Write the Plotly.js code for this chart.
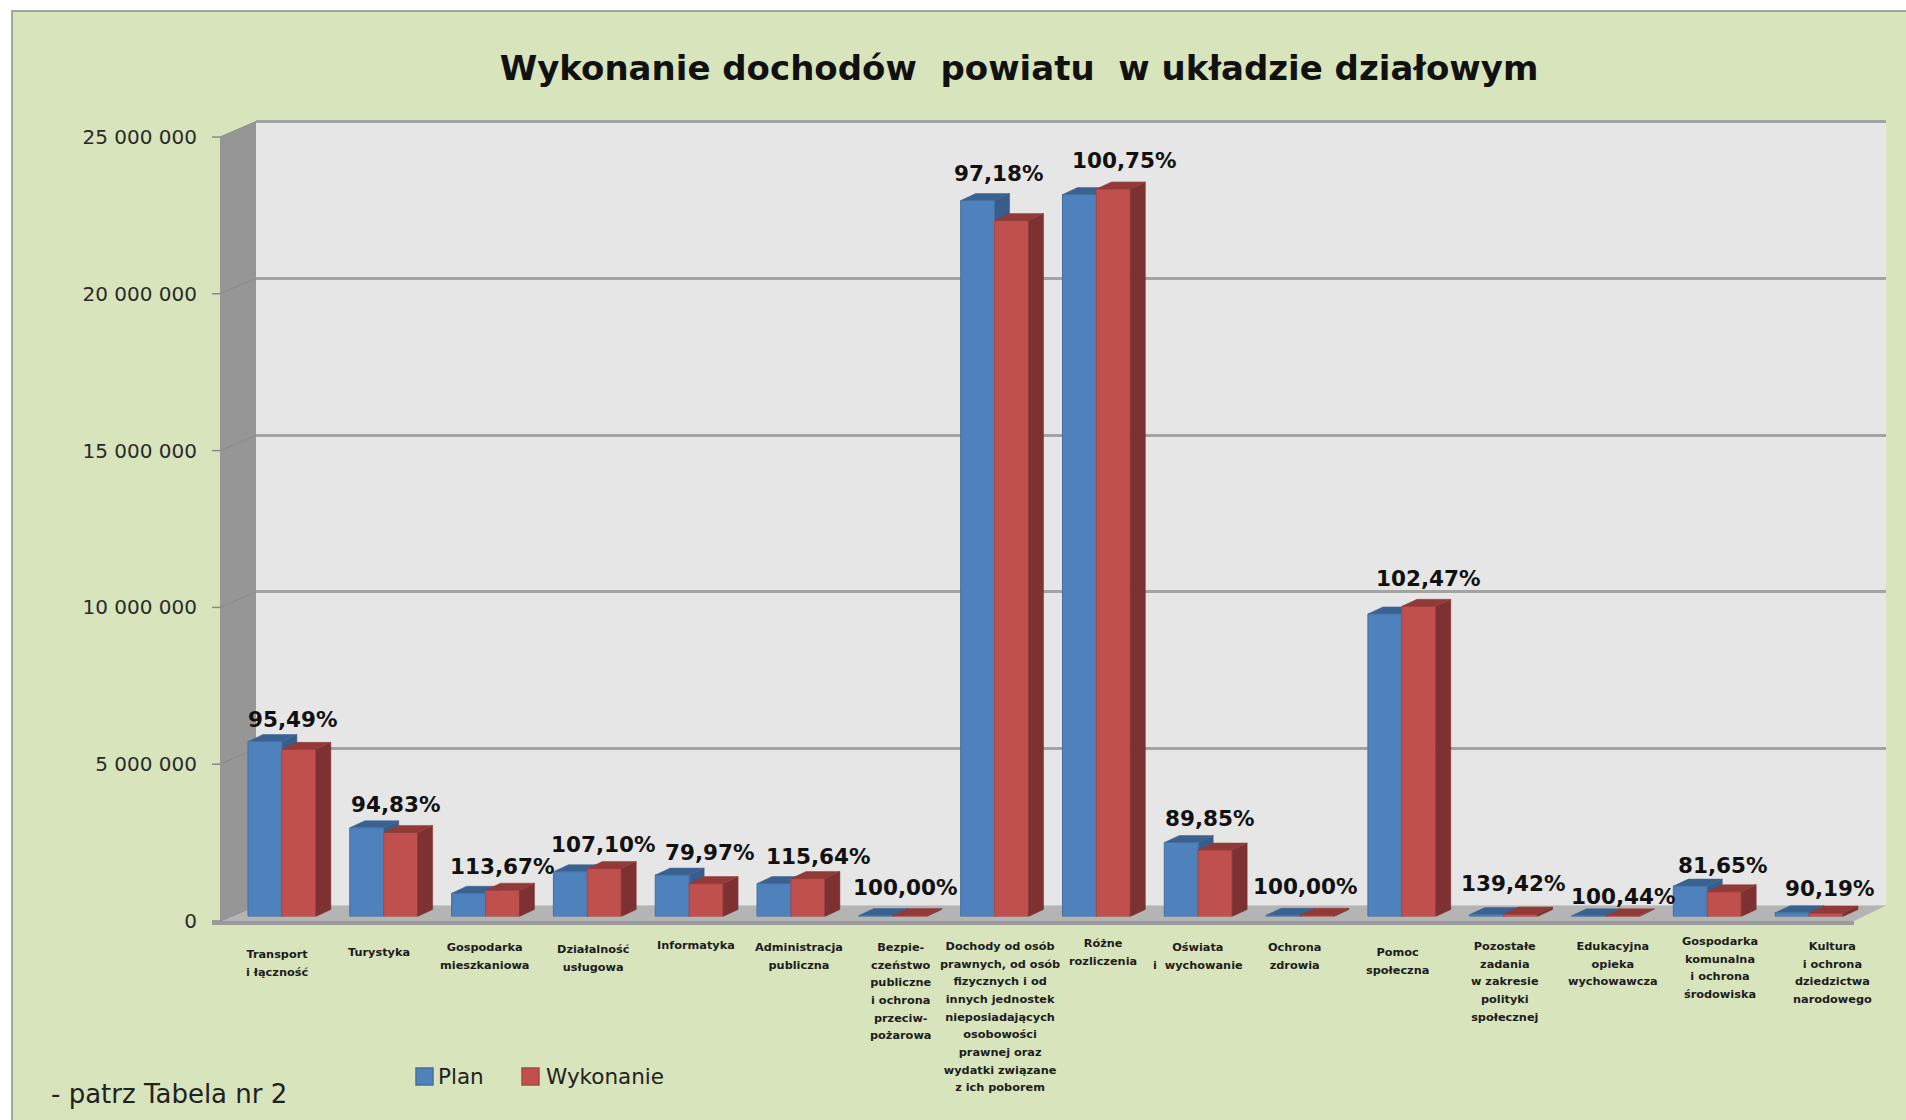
<!DOCTYPE html>
<html><head><meta charset="utf-8">
<script src="https://cdn.plot.ly/plotly-3.0.1.min.js"></script>
<style>html,body{margin:0;padding:0;background:#fff;overflow:hidden}</style>
</head><body><div id="chart" style="width:1906px;height:1120px"></div>
<script>
const chartTitle = "Wykonanie dochodów\u00a0 powiatu\u00a0 w układzie działowym";
const categories = [
 ["Transport","i łączność"],["Turystyka"],["Gospodarka","mieszkaniowa"],["Działalność","usługowa"],
 ["Informatyka"],["Administracja","publiczna"],["Bezpie-","czeństwo","publiczne","i ochrona","przeciw-","pożarowa"],
 ["Dochody od osób","prawnych, od osób","fizycznych i od","innych jednostek","nieposiadających","osobowości","prawnej oraz","wydatki związane","z ich poborem"],
 ["Różne","rozliczenia"],["Oświata","i\u00a0 wychowanie"],["Ochrona","zdrowia"],["Pomoc","społeczna"],
 ["Pozostałe","zadania","w zakresie","polityki","społecznej"],["Edukacyjna","opieka","wychowawcza"],
 ["Gospodarka","komunalna","i ochrona","środowiska"],["Kultura","i ochrona","dziedzictwa","narodowego"]];
const plan      = [5580000,2830000,740000,1430000,1320000,1050000,30000,22830000,23020000,2360000,40000,9650000,60000,20000,970000,120000];
const wykonanie = [5330000,2680000,840000,1530000,1050000,1210000,30000,22190000,23200000,2120000,40000,9890000,80000,20000,790000,110000];
const percent   = ["95,49%","94,83%","113,67%","107,10%","79,97%","115,64%","100,00%","97,18%","100,75%","89,85%","100,00%","102,47%","139,42%","100,44%","81,65%","90,19%"];
const yTicks    = [0,5000000,10000000,15000000,20000000,25000000];
const yTickText = ["0","5 000 000","10 000 000","15 000 000","20 000 000","25 000 000"];

// layout nudges, in page pixels
const pctShiftX = [11,12,17,16,21,28,13,4,28,12,5,27,10,18,16,21];
const pctShiftY = [22,23,24,24,23,22,28,27,28,24,29,28,30,19,21,24];
const catShiftX = [-5,-5,-1,6,7,8,8,5,7,0,-6,-4,1,8,13,23];
const catCenterY= [954,952,947,949,945,947,947,946,943,947,947,952,946,946,941,946];

const W=1906,H=1120;
const px=x=>x/W, py=y=>1-y/H;
const dom=(a,b)=>[a/W,b/W], vdom=(top,bot)=>[1-bot/H,1-top/H];

// geometry of the 3D box (pixels)
const FL=220,FR=1854,FB=921,FT=137, BL=256,BR=1886,BB=905.5,BT=121.5;
const PL=231,PR=1860,PB=916.5,PT=132.5;
const catPx=(PR-PL)/16, valPx=(PB-PT)/25000000;
const depthX=15/catPx, depthY=7/valPx, w=1/3;
const idx=categories.map((c,i)=>i);
const planColor='#4f81bd', execColor='#c0504d';

function depth(values,offset,kind){
  const xs=[],ys=[];
  values.forEach((v,i)=>{
    const l=i+offset,r=l+w;
    const pts= kind==='side'
      ? [[r,0],[r+depthX,depthY],[r+depthX,v+depthY],[r,v]]
      : [[l,v],[l+depthX,v+depthY],[r+depthX,v+depthY],[r,v]];
    pts.concat([pts[0]]).forEach(p=>{xs.push(p[0]);ys.push(p[1]);});
    xs.push(null);ys.push(null);
  });
  return {x:xs,y:ys};
}
function poly(d,color,xa,ya){
  return {type:'scatter',mode:'lines',x:d.x,y:d.y,fill:'toself',fillcolor:color,
    line:{width:0.5,color:color},hoverinfo:'skip',showlegend:false,xaxis:xa,yaxis:ya};
}
const anchorTrace=(xa,ya)=>({type:'scatter',mode:'markers',x:[0],y:[0],marker:{opacity:0,size:1},
  hoverinfo:'skip',showlegend:false,xaxis:xa,yaxis:ya});

const traces=[
  anchorTrace('x','y'),
  poly(depth(plan,-w,'side'),'#385d8a','x2','y2'),
  poly(depth(plan,-w,'top'),'#3a6291','x2','y2'),
  {type:'bar',name:'Plan',x:idx,y:plan,xaxis:'x3',yaxis:'y3',showlegend:false,marker:{color:planColor,line:{color:'#41719f',width:1}}},
  {type:'bar',name:'Wykonanie',x:idx,y:wykonanie,xaxis:'x3',yaxis:'y3',showlegend:false,marker:{color:execColor,line:{color:'#a94744',width:1}}},
  poly(depth(wykonanie,0,'side'),'#7d3231','x3','y3'),
  poly(depth(wykonanie,0,'top'),'#923a38','x3','y3'),
  anchorTrace('x4','y4')
];

const fontTick="'DejaVu Sans'";
const annotations=[];
categories.forEach((lines,i)=>{
  annotations.push({xref:'x3',yref:'paper',x:i,y:py(catCenterY[i]-8),xanchor:'center',yanchor:'top',xshift:catShiftX[i],
    showarrow:false,align:'center',font:{family:fontTick,size:13.6,color:'#1c1c1c'},
    text:lines.map(t=>'<span style="font-size:11.3px;font-weight:bold">'+t+'</span>').join('<br>')});
  annotations.push({xref:'x3',yref:'y3',x:i,y:Math.max(plan[i],wykonanie[i]),xanchor:'center',yanchor:'middle',
    xshift:pctShiftX[i],yshift:pctShiftY[i],showarrow:false,
    font:{family:fontTick,size:21.5,color:'#111',weight:600},text:'<b>'+percent[i]+'</b>'});
});
annotations.push({xref:'paper',yref:'paper',x:px(49),y:py(1094),xanchor:'left',yanchor:'middle',showarrow:false,
  font:{family:fontTick,size:26,color:'#222'},text:'- patrz Tabela nr 2'});
// legend entries
[['Plan',planColor,'#41719f',416,436],['Wykonanie',execColor,'#a94744',521,544]].forEach(e=>{
  annotations.push({xref:'paper',yref:'paper',x:px(e[4]),y:py(1076),xanchor:'left',yanchor:'middle',showarrow:false,
    font:{family:fontTick,size:21.5,color:'#222'},text:e[0]});
});

const shapes=[
  {type:'rect',xref:'paper',yref:'paper',x0:px(12),x1:px(1930),y0:py(11),y1:py(1140),fillcolor:'#d8e4bc',line:{color:'#8c8c8c',width:1.5},layer:'below'},
  {type:'path',xref:'paper',yref:'paper',layer:'below',fillcolor:'#e6e6e6',line:{width:0},
   path:`M${px(BL)},${py(BT)} L${px(BR)},${py(BT)} L${px(BR)},${py(BB)} L${px(BL)},${py(BB)} Z`},
  {type:'path',xref:'paper',yref:'paper',layer:'below',fillcolor:'#969696',line:{width:0},
   path:`M${px(FL)},${py(FT)} L${px(BL)},${py(BT)} L${px(BL)},${py(BB)} L${px(FL)},${py(FB)} Z`},
  {type:'path',xref:'paper',yref:'paper',layer:'below',fillcolor:'#b4b4b4',line:{width:0},
   path:`M${px(FL)},${py(FB)} L${px(BL)},${py(BB)} L${px(BR)},${py(BB)} L${px(FR)},${py(FB)} Z`},
  {type:'line',xref:'paper',yref:'paper',layer:'below',line:{color:'#a3a3a3',width:3},
   x0:px(BL),x1:px(BR),y0:py(BT),y1:py(BT)},
  {type:'line',xref:'paper',yref:'paper',layer:'below',line:{color:'#a3a3a3',width:1.5},
   x0:px(FL),x1:px(BL),y0:py(FB),y1:py(BB)},
  {type:'rect',xref:'paper',yref:'paper',layer:'above',x0:px(416),x1:px(433),y0:py(1068),y1:py(1085),fillcolor:planColor,line:{color:'#41719f',width:1.5}},
  {type:'rect',xref:'paper',yref:'paper',layer:'above',x0:px(522),x1:px(539),y0:py(1068),y1:py(1085),fillcolor:execColor,line:{color:'#a94744',width:1.5}}
];
yTicks.forEach(t=>{
  const f=t/25000000, yf=FB-f*(FB-FT);
  shapes.push({type:'line',xref:'paper',yref:'paper',layer:'below',line:{color:'#8a8a8a',width:1},
    x0:px(FL),x1:px(BL),y0:py(yf),y1:py(BB-f*(BB-BT))});
  shapes.push({type:'line',xref:'paper',yref:'paper',layer:'below',line:{color:'#8a8a8a',width:1.5},
    x0:px(FL-8),x1:px(FL),y0:py(yf),y1:py(yf)});
});

const hidden={visible:false,fixedrange:true};
const layout={
  width:W,height:H,margin:{l:0,r:0,t:0,b:0,pad:0},
  paper_bgcolor:'#ffffff',plot_bgcolor:'rgba(0,0,0,0)',
  title:{text:'<b>'+chartTitle+'</b>',x:px(1019),xanchor:'center',y:py(68),yanchor:'middle',
         font:{family:fontTick,size:34,color:'#111'}},
  barmode:'group',bargap:1/3,bargroupgap:0,hovermode:false,
  showlegend:false,
  xaxis:Object.assign({domain:dom(BL,BR),range:[0,1]},hidden),
  yaxis:{domain:vdom(BT,BB),range:[0,25000000],tickvals:yTicks,showgrid:true,gridcolor:'#a3a3a3',gridwidth:3,
         zeroline:false,showticklabels:false,ticks:'',showline:false,fixedrange:true},
  xaxis2:Object.assign({domain:dom(PL,PR),range:[-0.5,15.5],anchor:'y2'},hidden),
  yaxis2:Object.assign({domain:vdom(PT,PB),range:[0,25000000],anchor:'x2'},hidden),
  xaxis3:Object.assign({domain:dom(PL,PR),range:[-0.5,15.5],anchor:'y3'},hidden),
  yaxis3:Object.assign({domain:vdom(PT,PB),range:[0,25000000],anchor:'x3'},hidden),
  xaxis4:{domain:dom(FL-8,FR),range:[0,1],anchor:'y4',showline:true,linecolor:'#9a9a9a',linewidth:4,
          showticklabels:false,ticks:'',showgrid:false,zeroline:false,fixedrange:true},
  yaxis4:{domain:vdom(FT,FB),range:[0,25000000],anchor:'x4',tickvals:yTicks,ticktext:yTickText,ticks:'',
          tickfont:{family:fontTick,size:20,color:'#2a2a2a'},showgrid:false,zeroline:false,showline:false,
          ticklabelstandoff:14,fixedrange:true},
  shapes:shapes,annotations:annotations
};
Plotly.newPlot('chart',traces,layout,{displayModeBar:false,staticPlot:true});
</script></body></html>
